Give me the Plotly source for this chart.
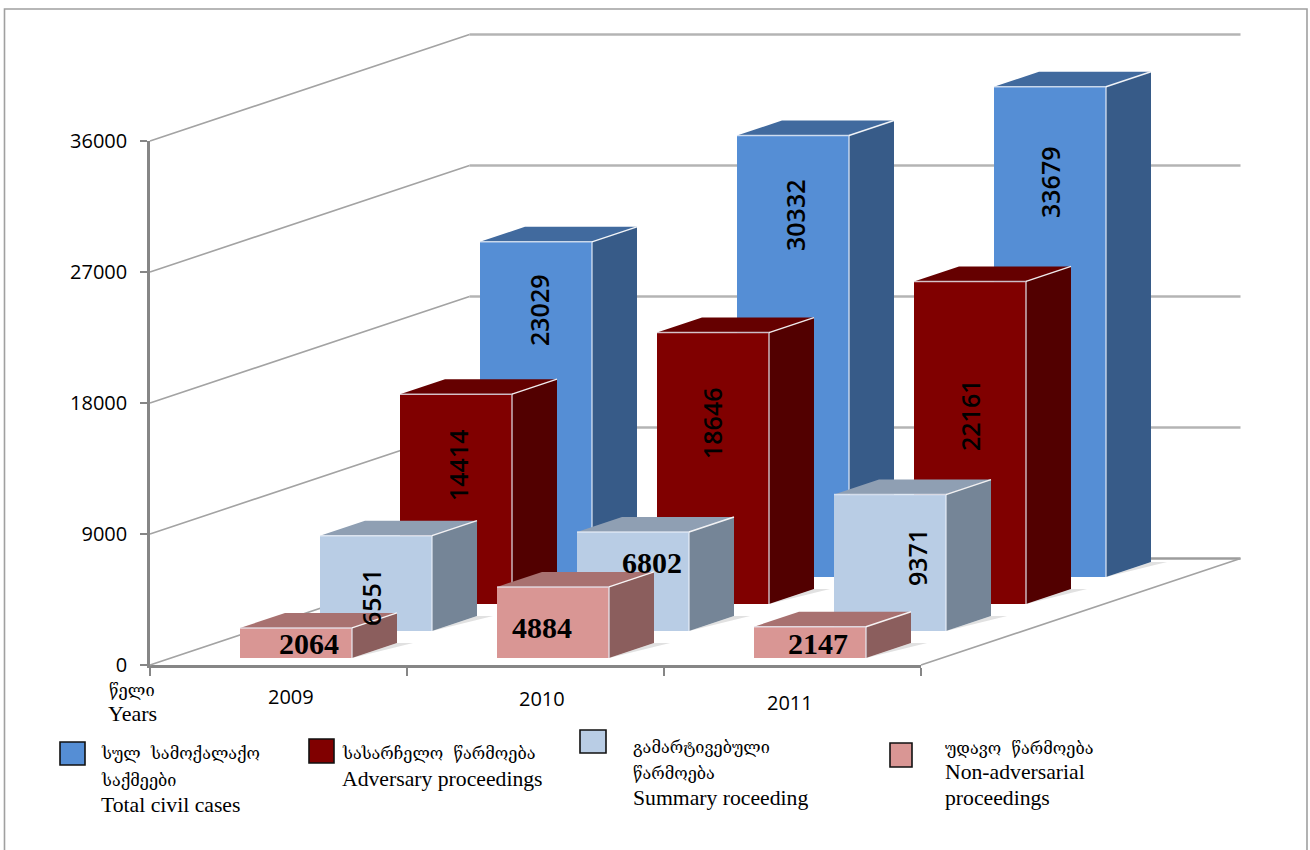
import plotly.graph_objects as go

W, H = 1310, 850

YEARS = ["2009", "2010", "2011"]
TOTAL_CIVIL = [23029, 30332, 33679]
ADVERSARY = [14414, 18646, 22161]
SUMMARY = [6551, 6802, 9371]
NON_ADVERSARIAL = [2064, 4884, 2147]
Y_TICKS = [0, 9000, 18000, 27000, 36000]

# ---- geometry of the oblique projection (styles and layout, not data)
X0_PX, X3_PX = 150, 921
Y0_PX, YTOP_PX = 665, 141
CAT_PX = (X3_PX - X0_PX) / 3
VAL_PX = (Y0_PX - YTOP_PX) / 36000
DEPTH_DX, DEPTH_DY = 3.0, 1.0      # pixels across / up per pixel of depth
WALL_DEPTH = 106.5
BAR_OFFSET = 69 / CAT_PX
BAR_W = 112 / CAT_PX
BAR_DEPTH = 15

series = [  # back to front
    dict(values=TOTAL_CIVIL, row=3, front="#558ed5", side="#375b88", top="#416a9e"),
    dict(values=ADVERSARY, row=2, front="#800000", side="#520000", top="#650000"),
    dict(values=SUMMARY, row=1, front="#b9cde5", side="#758597", top="#8f9fb3"),
    dict(values=NON_ADVERSARIAL, row=0, front="#d99694", side="#8b5e5d", top="#a87170"),
]


def proj(cat, value, depth):
    """cat in category units, value in data units, depth in pixels."""
    return cat + depth * DEPTH_DX / CAT_PX, value + depth * DEPTH_DY / VAL_PX


def poly(name, pts, fill, line="rgba(0,0,0,0)", width=0):
    xs, ys = zip(*[proj(*p) for p in pts])
    fig.add_trace(go.Scatter(
        x=list(xs) + [xs[0]], y=list(ys) + [ys[0]], mode="lines", fill="toself",
        fillcolor=fill, line=dict(color=line, width=width), hoverinfo="skip",
        showlegend=False, name=name, xaxis="x2", yaxis="y2"))


def seg(pts, color, width):
    xs, ys = zip(*[proj(*p) for p in pts])
    fig.add_trace(go.Scatter(
        x=list(xs), y=list(ys), mode="lines", line=dict(color=color, width=width),
        hoverinfo="skip", showlegend=False, xaxis="x2", yaxis="y2"))


fig = go.Figure()

# primary subplot: carries the real value axis and year axis
fig.add_trace(go.Scatter(x=[0, 3], y=[0, 36000], mode="lines",
                         line=dict(color="rgba(0,0,0,0)"), hoverinfo="skip", showlegend=False))

# walls and floor
for t in Y_TICKS:
    if t:
        seg([(0, t, 0), (0, t, WALL_DEPTH)], "#a3a3a3", 1.6)
        seg([(0, t, WALL_DEPTH), (3, t, WALL_DEPTH)], "#b4b4b4", 2.4)
seg([(0, 0, 0), (0, 0, WALL_DEPTH)], "#a3a3a3", 1.6)
seg([(0, 0, WALL_DEPTH), (3, 0, WALL_DEPTH)], "#9c9c9c", 2.4)
seg([(3, 0, 0), (3, 0, WALL_DEPTH)], "#a3a3a3", 1.6)

# bars
for s in series:
    d0 = 7 + 27 * s["row"]
    d1 = d0 + BAR_DEPTH
    for i, v in enumerate(s["values"]):
        l = i + BAR_OFFSET - s["row"] / CAT_PX
        r = l + BAR_W
        # soft floor shadows
        poly("shadow", [(r, 0, d0), (r, 0, d1), (r + 16 / CAT_PX, 0, d1)], "rgba(90,90,90,0.18)")
        poly("side", [(r, 0, d0), (r, 0, d1), (r, v, d1), (r, v, d0)], s["side"])
        poly("top", [(l, v, d0), (r, v, d0), (r, v, d1), (l, v, d1)], s["top"])
        poly("front", [(l, 0, d0), (r, 0, d0), (r, v, d0), (l, v, d0)], s["front"])
        seg([(l, v, d0), (r, v, d0), (r, 0, d0)], "rgba(235,240,248,0.75)", 1.5)
        seg([(r, v, d0), (r, v, d1)], "rgba(255,255,255,0.9)", 1.4)


def px_x(x):
    return x / W


def px_y(y):
    return 1 - y / H


annots = []


def text(s, x, y, size, font, anchor="left", angle=0, color="#000000", weight=None):
    f = dict(family=font, size=size, color=color)
    if weight:
        f["weight"] = weight
    annots.append(dict(text=s, x=px_x(x), y=px_y(y), xref="paper", yref="paper",
                       xanchor=anchor, yanchor="middle", showarrow=False,
                       textangle=angle, font=f))


SANS = "Open Sans"
SERIF = "Liberation Serif"
GEO = "DejaVu Serif, DejaVu Sans"

# value labels, hand-placed in the original
label_places = {
    (0, 0): (539, 311, -90), (0, 1): (795, 215, -90), (0, 2): (1050, 183, -90),
    (1, 0): (458, 466, -90), (1, 1): (712, 424, -90), (1, 2): (970, 416, -90),
    (2, 0): (371, 598, -90), (2, 1): (652, 562, 0), (2, 2): (917, 557, -90),
    (3, 0): (309, 643, 0), (3, 1): (542, 627, 0), (3, 2): (818, 643, 0),
}
for si, s in enumerate(series):
    for i, v in enumerate(s["values"]):
        x, y, ang = label_places[(si, i)]
        if ang:
            text(str(v), x, y, 25, SANS, "center", ang, weight=600)
        else:
            text(str(v), x, y, 30, SERIF, "center", ang, weight="bold")

# year labels, offset from the ticks in the original
for yr, (x, y) in zip(YEARS, [(291, 696), (542, 698), (790, 702)]):
    text(yr, x, y, 20, SANS, "center")

text("წელი", 107, 690, 16.5, GEO)
text("Years", 106, 713, 22, SERIF)

legend_items = [
    ("#558ed5", (60, 742, 85, 765), 99, [("სულ  სამოქალაქო", 753, GEO, 16.3), ("საქმეები", 780, GEO, 16.3), ("Total civil cases", 805, SERIF, 21.7)]),
    ("#800000", (309, 739, 334, 763), 340, [("სასარჩელო  წარმოება", 753, GEO, 16.3), ("Adversary proceedings", 779, SERIF, 21.7)]),
    ("#b9cde5", (580, 730, 606, 753), 631, [("გამარტივებული", 747, GEO, 16.3), ("წარმოება", 773, GEO, 16.3), ("Summary roceeding", 798, SERIF, 21.7)]),
    ("#d99694", (890, 743, 912, 767), 943, [("უდავო  წარმოება", 748, GEO, 16.3), ("Non-adversarial", 772, SERIF, 21.7), ("proceedings", 798, SERIF, 21.7)]),
]
shapes = []
for color, (x0, y0, x1, y1), tx, lines in legend_items:
    shapes.append(dict(type="rect", xref="paper", yref="paper", x0=px_x(x0), x1=px_x(x1),
                       y0=px_y(y0), y1=px_y(y1), fillcolor=color,
                       line=dict(color="#111111", width=1.6)))
    for s, y, f, sz in lines:
        text(s, tx, y, sz, f)

# outer frame, open at the bottom
shapes.append(dict(type="path", xref="paper", yref="paper",
                   path=f"M {px_x(4.5)} {px_y(850)} L {px_x(4.5)} {px_y(9)} L {px_x(1307)} {px_y(9)} L {px_x(1307)} {px_y(850)}",
                   line=dict(color="#a0a0a0", width=1.6)))

fig.update_layout(
    width=W, height=H, margin=dict(l=0, r=0, t=0, b=0, pad=0, autoexpand=False),
    paper_bgcolor="#ffffff", plot_bgcolor="rgba(0,0,0,0)", showlegend=False,
    annotations=annots, shapes=shapes,
    xaxis=dict(domain=[X0_PX / W, X3_PX / W], range=[0, 3], tickvals=[0, 1, 2, 3], ticktext=["", "", "", ""],
               ticks="outside", ticklen=8, tickwidth=1.5, tickcolor="#868686", automargin=False,
               showline=True, linecolor="#868686", linewidth=3, showgrid=False, zeroline=False,
               anchor="y", fixedrange=True),
    yaxis=dict(domain=[1 - Y0_PX / H, 1 - YTOP_PX / H], range=[0, 36000], tickvals=Y_TICKS,
               ticktext=[str(t) for t in Y_TICKS], ticks="outside", ticklen=7, tickwidth=1.5,
               tickcolor="#868686", showline=True, linecolor="#868686", linewidth=2.5, showgrid=False,
               zeroline=False, anchor="x", fixedrange=True, automargin=False, ticklabelstandoff=9,
               tickfont=dict(family=SANS, size=20, color="#000000")),
    xaxis2=dict(domain=[0, 1], range=[-X0_PX / CAT_PX, (W - X0_PX) / CAT_PX], visible=False,
                anchor="y2", fixedrange=True, automargin=False),
    yaxis2=dict(domain=[0, 1], range=[-(H - Y0_PX) / VAL_PX, Y0_PX / VAL_PX], visible=False,
                anchor="x2", fixedrange=True, automargin=False),
)

fig.write_html("out.html", config={"displayModeBar": False},
               post_script="document.body.style.margin='0';document.body.style.overflow='hidden';")
